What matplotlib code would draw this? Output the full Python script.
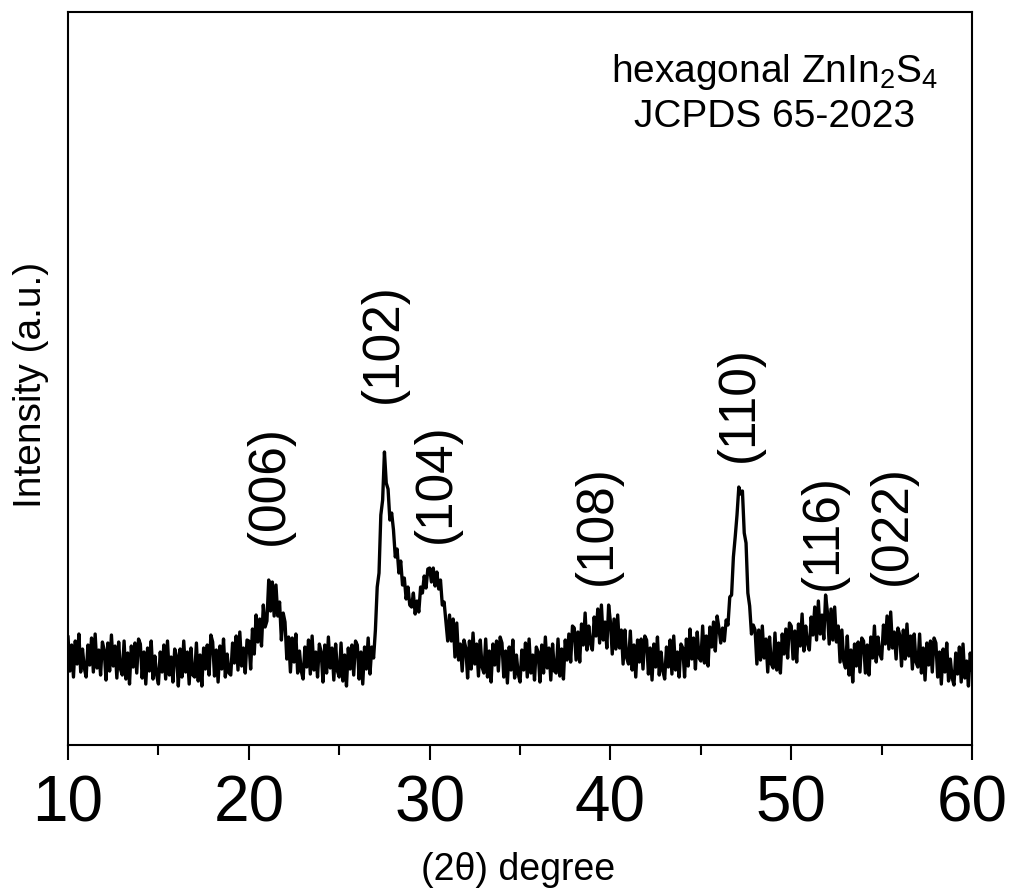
import numpy as np
import matplotlib.pyplot as plt

plt.rcParams['font.family'] = ['Liberation Sans', 'DejaVu Sans']
plt.rcParams['mathtext.fontset'] = 'custom'
plt.rcParams['mathtext.rm'] = 'Liberation Sans'

# 2theta scan, 0.1 degree step, 10..60
two_theta = np.round(10 + 0.1 * np.arange(501), 1)

# intensity (a.u.), one row per degree
intensity = [
    108, 74, 100, 68, 104, 81, 111, 73, 96, 77,
    68, 100, 80, 107, 73, 111, 77, 95, 70, 103,
    95, 65, 102, 74, 110, 79, 99, 67, 103, 76,
    70, 104, 66, 92, 61, 99, 78, 102, 72, 106,
    101, 67, 93, 61, 97, 74, 104, 66, 89, 70,
    61, 93, 73, 100, 66, 104, 70, 88, 63, 96,
    89, 59, 96, 68, 104, 73, 93, 61, 97, 70,
    68, 102, 64, 90, 59, 97, 76, 100, 70, 110,
    103, 69, 95, 63, 99, 76, 106, 68, 91, 72,
    70, 102, 82, 109, 75, 113, 79, 97, 72, 105,
    104, 76, 116, 91, 130, 103, 126, 99, 140, 118,
    124, 165, 134, 163, 129, 160, 129, 143, 105, 132,
    123, 86, 108, 73, 107, 83, 111, 72, 94, 74,
    66, 98, 78, 105, 71, 109, 75, 93, 68, 101,
    93, 63, 100, 72, 108, 77, 97, 65, 101, 74,
    68, 102, 64, 90, 59, 97, 76, 100, 70, 104,
    100, 66, 93, 61, 98, 76, 107, 71, 98, 87,
    115, 158, 172, 230, 245, 293, 262, 256, 225, 232,
    215, 188, 196, 172, 184, 160, 167, 146, 158, 140,
    138, 152, 131, 144, 133, 158, 152, 169, 157, 176,
    177, 163, 177, 159, 173, 156, 165, 140, 143, 124,
    104, 130, 104, 126, 88, 122, 85, 101, 74, 105,
    97, 67, 104, 76, 112, 81, 101, 69, 105, 78,
    72, 106, 68, 94, 63, 101, 80, 104, 74, 108,
    102, 68, 94, 62, 98, 75, 105, 67, 90, 71,
    63, 95, 75, 102, 68, 106, 72, 90, 65, 98,
    93, 63, 100, 72, 108, 77, 97, 65, 101, 74,
    72, 106, 69, 96, 66, 105, 85, 111, 83, 119,
    117, 85, 113, 83, 121, 100, 132, 95, 119, 101,
    95, 128, 109, 136, 102, 140, 105, 123, 97, 140,
    123, 91, 126, 96, 130, 97, 115, 81, 115, 87,
    81, 114, 75, 100, 68, 105, 83, 106, 76, 109,
    105, 71, 97, 65, 101, 78, 108, 70, 93, 74,
    66, 98, 78, 105, 71, 109, 75, 93, 68, 101,
    97, 68, 106, 79, 116, 86, 107, 76, 113, 87,
    84, 119, 82, 109, 79, 118, 98, 123, 94, 129,
    117, 102, 117, 104, 125, 120, 148, 150, 188, 208,
    230, 258, 251, 254, 212, 202, 152, 139, 111, 120,
    115, 81, 115, 85, 119, 87, 106, 73, 108, 81,
    77, 112, 75, 102, 72, 111, 91, 116, 87, 122,
    119, 86, 114, 83, 121, 99, 131, 94, 119, 101,
    95, 128, 110, 138, 105, 144, 111, 130, 106, 150,
    133, 101, 136, 105, 138, 103, 119, 83, 115, 84,
    77, 109, 70, 95, 63, 101, 79, 103, 73, 107,
    104, 72, 100, 70, 108, 87, 119, 83, 108, 91,
    86, 120, 101, 129, 96, 133, 97, 113, 86, 117,
    110, 79, 115, 86, 121, 89, 109, 76, 111, 83,
    78, 111, 72, 97, 65, 102, 80, 104, 73, 107,
    102, 68, 93, 61, 96, 73, 102, 64, 86, 67,
    60, 92, 71, 98, 63, 101, 67, 84, 59, 92,
    75,
]

# peak labels (hkl), their 2theta and label height
peak_labels = ['(006)', '(102)', '(104)', '(108)', '(110)', '(116)', '(022)']
peak_x = [21.12, 27.42, 30.35, 39.26, 47.11, 51.76, 55.58]
peak_label_y = [260, 402, 262, 220, 341, 213, 220]

x_ticks = [10, 20, 30, 40, 50, 60]

fig = plt.figure(figsize=(10.17, 8.88), dpi=100)
ax = fig.add_axes([0.0669, 0.161, 0.8889, 0.8255])

ax.plot(two_theta, intensity, color='black', linewidth=2.4)

for lab, px, py in zip(peak_labels, peak_x, peak_label_y):
    ax.text(px, py, lab, rotation=90, ha='center', va='center', fontsize=37)

ax.text(49.1, 673, r'hexagonal ZnIn$_\mathregular{2}$S$_\mathregular{4}$',
        ha='center', va='center', fontsize=28)
ax.text(49.1, 628, 'JCPDS 65-2023', ha='center', va='center', fontsize=28)

ax.set_xlim(10, 60)
ax.set_ylim(0, 733)
ax.set_xticks(x_ticks)
ax.set_xticks(np.arange(15, 60, 10), minor=True)
ax.set_yticks([])
ax.tick_params(axis='x', which='major', direction='out', length=11, width=1.5, pad=10,
               labelsize=46)
ax.tick_params(axis='x', which='minor', direction='out', length=7, width=1.5)
for sp in ax.spines.values():
    sp.set_linewidth(1.5)

fig.text(518 / 1017, 1 - 880 / 888, '(2θ) degree', ha='center', va='baseline', fontsize=27)
fig.text(31 / 1017, 1 - 385 / 888, 'Intensity (a.u.)', rotation=90,
         ha='center', va='center', fontsize=28)

fig.savefig('out.png', dpi=100)
